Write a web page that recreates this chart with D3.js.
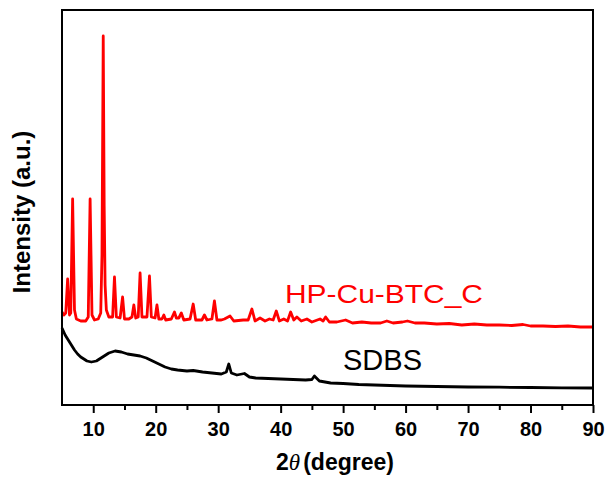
<!DOCTYPE html>
<html>
<head>
<meta charset="utf-8">
<script src="https://cdn.jsdelivr.net/npm/d3@7"></script>
<style>
  body { margin: 0; background: #fff; }
  svg { display: block; font-family: Arial, "Liberation Sans", sans-serif; }
</style>
</head>
<body>
<div id="chart"></div>
<script>
// 2theta (degree), intensity (a.u.)
const hpAngle = [5.0, 5.3, 5.6, 5.9, 6.2, 6.4, 6.7, 7.0, 7.3, 8.0, 8.8, 9.2, 9.5, 9.8, 10.2, 10.8, 11.2, 11.4, 11.6, 11.75, 11.9, 12.1, 12.5,
  13.1, 13.4, 13.7, 14.3, 14.7, 15.0, 15.7, 16.2, 16.5, 16.8, 17.2, 17.5, 17.8, 18.6, 19.0, 19.3, 19.9, 20.2, 20.5, 21.0, 21.3, 21.6,
  22.5, 23.0, 23.3, 23.7, 24.1, 24.5, 25.5, 26.0, 26.4, 27.4, 27.8, 28.2, 29.0, 29.4, 29.8, 30.5, 31.0, 31.9, 32.5, 34.0, 34.8, 35.4,
  35.9, 36.7, 37.5, 38.2, 38.8, 39.3, 39.8, 40.5, 41.1, 41.6, 42.1, 42.6, 43.3, 44.2, 45.0, 46.3, 46.8, 47.2, 47.8, 49.0, 50.4, 51.5,
  53, 54.5, 56, 57, 58, 59.5, 60.3, 61.5, 63, 65, 67, 69, 71, 73, 75, 77, 78.8, 80, 82, 84, 86, 88, 90];
const hpIntensity = [93, 90, 92, 126, 90, 92, 206, 95, 86, 84, 84, 88, 206, 90, 85, 86, 92, 150, 369, 200, 120, 95, 88,
  88, 128, 88, 87, 108, 86, 86, 88, 100, 87, 88, 132, 88, 88, 129, 88, 87, 100, 86, 86, 90, 85,
  86, 93, 87, 87, 92, 85, 86, 101, 85, 85, 90, 85, 86, 104, 85, 85, 86, 89, 84, 85, 85, 96,
  84, 87, 84, 86, 85, 94, 84, 86, 84, 93, 85, 88, 84, 86, 83, 86, 84, 88, 83, 83, 85, 82,
  83, 82, 82, 84, 82, 83, 84, 82, 82, 81, 81.5, 80, 81, 80, 80, 79.5, 80.5, 79, 79, 78.5, 79, 78, 78];

const sdbsAngle = [5.0, 5.5, 6.0, 6.5, 7.0, 7.5, 8.0, 8.5, 9.0, 9.7, 10.5, 11.5, 12.5, 13.5, 14.5, 15.5, 16.5, 17.5, 18.5, 19.5,
  20.5, 21.5, 22.5, 23.5, 25.0, 26.0, 27.5, 29.0, 30.5, 31.3, 31.7, 32.1, 33.0, 34.2, 35.0, 36.0, 38.0, 40.0, 42.0, 44.0, 45.0,
  45.4, 46.2, 48.0, 50.0, 52.5, 55.0, 57.5, 60.0, 65.0, 70.0, 75.0, 80.0, 85.0, 90.0];
const sdbsIntensity = [77, 70, 65, 60, 55, 51, 48, 46, 44, 43, 44, 48, 52, 54, 53, 51, 50, 49, 47, 44,
  41, 38, 36, 35, 34, 34.5, 33, 32, 31, 33, 41, 32, 30, 31.5, 28, 27, 26.5, 26, 25.5, 25, 25.5,
  29, 24, 22, 21.5, 20.5, 20, 19.5, 19, 18.5, 18, 17.8, 17.5, 17.2, 17];

const xMajor = [10, 20, 30, 40, 50, 60, 70, 80, 90];
const xMinor = [15, 25, 35, 45, 55, 65, 75, 85];

const width = 610, height = 477;
const plotLeft = 62, plotRight = 593, plotTop = 10, plotBottom = 405;

const svg = d3.select("#chart").append("svg")
  .attr("width", width)
  .attr("height", height);

const x = d3.scaleLinear().domain([5, 90]).range([plotLeft, plotRight]);
const y = d3.scaleLinear().domain([0, 395]).range([plotBottom, plotTop]);

const line = d3.line()
  .x(d => x(d[0]))
  .y(d => y(d[1]));

const hpData = hpAngle.map((a, i) => [a, hpIntensity[i]]);
const sdbsData = sdbsAngle.map((a, i) => [a, sdbsIntensity[i]]);

svg.append("path")
  .datum(sdbsData)
  .attr("d", line)
  .attr("fill", "none")
  .attr("stroke", "#000")
  .attr("stroke-width", 2.8)
  .attr("stroke-linejoin", "round");

svg.append("path")
  .datum(hpData)
  .attr("d", line)
  .attr("fill", "none")
  .attr("stroke", "#ff0000")
  .attr("stroke-width", 2.8)
  .attr("stroke-linejoin", "round");

// frame
svg.append("rect")
  .attr("x", plotLeft)
  .attr("y", plotTop)
  .attr("width", plotRight - plotLeft)
  .attr("height", plotBottom - plotTop)
  .attr("fill", "none")
  .attr("stroke", "#000")
  .attr("stroke-width", 2);

// bottom axis
const axis = svg.append("g")
  .attr("transform", `translate(0,${plotBottom})`)
  .call(d3.axisBottom(x).tickValues(xMajor).tickSize(8).tickPadding(9).tickSizeOuter(0));
axis.select(".domain").remove();
axis.selectAll(".tick line").attr("stroke-width", 2);
axis.selectAll(".tick text")
  .attr("font-size", 20)
  .attr("font-weight", "bold")
  .attr("font-family", "Arial, 'Liberation Sans', sans-serif")
  .attr("fill", "#000");

const minor = svg.append("g")
  .attr("transform", `translate(0,${plotBottom})`)
  .call(d3.axisBottom(x).tickValues(xMinor).tickSize(5).tickFormat(""));
minor.select(".domain").remove();
minor.selectAll(".tick line").attr("stroke-width", 2);

// axis titles
const xt = svg.append("text")
  .attr("x", 335)
  .attr("y", 470)
  .attr("text-anchor", "middle")
  .attr("font-size", 23)
  .attr("font-weight", "bold");
xt.append("tspan").text("2");
xt.append("tspan")
  .attr("font-family", "'Liberation Serif', 'Times New Roman', serif")
  .attr("font-style", "italic")
  .attr("font-weight", "normal")
  .text("\u03b8");
xt.append("tspan").attr("dx", 3).text("(degree)");

svg.append("text")
  .attr("transform", "translate(30,212) rotate(-90)")
  .attr("text-anchor", "middle")
  .attr("font-size", 24)
  .attr("font-weight", "bold")
  .text("Intensity (a.u.)");

// series labels
svg.append("text")
  .attr("x", 285)
  .attr("y", 303)
  .attr("font-size", 26)
  .attr("textLength", 198)
  .attr("lengthAdjust", "spacingAndGlyphs")
  .attr("fill", "#ff0000")
  .text("HP-Cu-BTC_C");

svg.append("text")
  .attr("x", 343)
  .attr("y", 370)
  .attr("font-size", 29)
  .attr("fill", "#000")
  .text("SDBS");
</script>
</body>
</html>
